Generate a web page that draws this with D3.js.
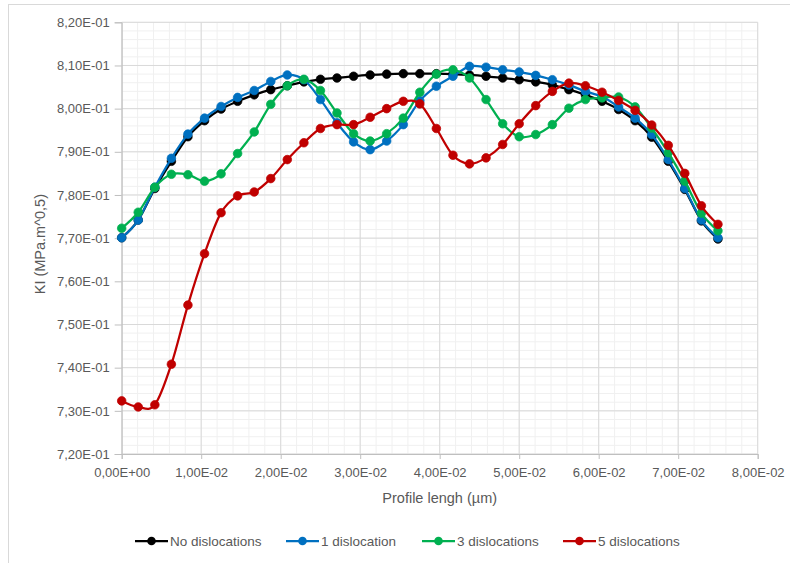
<!DOCTYPE html>
<html>
<head>
<meta charset="utf-8">
<script src="https://cdn.jsdelivr.net/npm/d3@7"></script>
<style>
  body { margin: 0; background: #fff; }
  #chart { width: 790px; height: 563px; }
  text { font-family: "Liberation Sans", Arial, sans-serif; fill: #595959; }
</style>
</head>
<body>
<div id="chart"></div>
<script>
// profile positions (µm)
const profileX = [0, 0.00208, 0.00417, 0.00625, 0.00833, 0.01042, 0.0125, 0.01458, 0.01667, 0.01875,
    0.02083, 0.02292, 0.025, 0.02708, 0.02917, 0.03125, 0.03333, 0.03542, 0.0375, 0.03958,
    0.04167, 0.04375, 0.04583, 0.04792, 0.05, 0.05208, 0.05417, 0.05625, 0.05833, 0.06042,
    0.0625, 0.06458, 0.06667, 0.06875, 0.07083, 0.07292, 0.075];

const noDisloc = [0.7701, 0.7742, 0.7815, 0.7878, 0.7935, 0.7972, 0.7999, 0.8017, 0.8032, 0.8044,
    0.8053, 0.8062, 0.8068, 0.8071, 0.8075, 0.8078, 0.8080, 0.8081, 0.8081, 0.8081,
    0.8080, 0.8078, 0.8075, 0.8071, 0.8067, 0.8062, 0.8055, 0.8044, 0.8032, 0.8017,
    0.7998, 0.7972, 0.7934, 0.7878, 0.7813, 0.7740, 0.7698];

const oneDisloc = [0.7701, 0.7742, 0.7818, 0.7885, 0.7941, 0.7978, 0.8005, 0.8026, 0.8042, 0.8063,
    0.8078, 0.8067, 0.8021, 0.7967, 0.7923, 0.7905, 0.7925, 0.7963, 0.8018, 0.8052,
    0.8075, 0.8098, 0.8096, 0.8090, 0.8085, 0.8077, 0.8067, 0.8055, 0.8040, 0.8028,
    0.8004, 0.7978, 0.7940, 0.7882, 0.7815, 0.7742, 0.7701];

const threeDisloc = [0.7723, 0.7760, 0.7818, 0.7848, 0.7847, 0.7832, 0.7849, 0.7896, 0.7946, 0.8010,
    0.8053, 0.8068, 0.8042, 0.7990, 0.7942, 0.7925, 0.7942, 0.7978, 0.8038, 0.8080,
    0.8090, 0.8071, 0.8021, 0.7965, 0.7935, 0.7940, 0.7963, 0.8001, 0.8021, 0.8025,
    0.8027, 0.8004, 0.7955, 0.7898, 0.7832, 0.7758, 0.7717];

const fiveDisloc = [0.7323, 0.7309, 0.7314, 0.7408, 0.7545, 0.7664, 0.7759, 0.7798, 0.7807, 0.7838,
    0.7882, 0.7921, 0.7954, 0.7963, 0.7963, 0.7980, 0.8000, 0.8017, 0.8011, 0.7954,
    0.7892, 0.7872, 0.7886, 0.7917, 0.7965, 0.8007, 0.8040, 0.8059, 0.8053, 0.8038,
    0.8019, 0.7996, 0.7962, 0.7915, 0.7850, 0.7775, 0.7732];

const seriesNames = ["No dislocations", "1 dislocation", "3 dislocations", "5 dislocations"];
const seriesColors = ["#000000", "#0070C0", "#00B050", "#C00000"];
const xTicks = [0, 0.01, 0.02, 0.03, 0.04, 0.05, 0.06, 0.07, 0.08];
const yTicks = [0.72, 0.73, 0.74, 0.75, 0.76, 0.77, 0.78, 0.79, 0.80, 0.81, 0.82];

const width = 790, height = 563;
const plot = {left: 121.7, right: 757.7, top: 22.3, bottom: 454};

const svg = d3.select("#chart").append("svg")
    .attr("width", width)
    .attr("height", height);

// chart area border
svg.append("rect")
    .attr("x", 8.5).attr("y", 4.5)
    .attr("width", 800).attr("height", 600)
    .attr("fill", "none")
    .attr("stroke", "#d9d9d9");

const x = d3.scaleLinear().domain([0, 0.08]).range([plot.left, plot.right]);
const y = d3.scaleLinear().domain([0.72, 0.82]).range([plot.bottom, plot.top]);

// Excel style scientific format: 8,20E-01
function sci(v) {
    if (v === 0) return "0,00E+00";
    const [m, e] = v.toExponential(2).split("e");
    const ev = +e;
    const es = (ev < 0 ? "-" : "+") + String(Math.abs(ev)).padStart(2, "0");
    return m.replace(".", ",") + "E" + es;
}

// minor grid
const minorX = d3.range(0, 0.0801, 0.002);
const minorY = d3.range(0.72, 0.8201, 0.002);
svg.append("g").selectAll("line").data(minorX).join("line")
    .attr("x1", d => x(d)).attr("x2", d => x(d))
    .attr("y1", plot.top).attr("y2", plot.bottom)
    .attr("stroke", "#f0f0f0").attr("stroke-width", 1);
svg.append("g").selectAll("line").data(minorY).join("line")
    .attr("x1", plot.left).attr("x2", plot.right)
    .attr("y1", d => y(d)).attr("y2", d => y(d))
    .attr("stroke", "#f0f0f0").attr("stroke-width", 1);

// major grid
svg.append("g").selectAll("line").data(xTicks).join("line")
    .attr("x1", d => x(d)).attr("x2", d => x(d))
    .attr("y1", plot.top).attr("y2", plot.bottom)
    .attr("stroke", "#d9d9d9").attr("stroke-width", 1);
svg.append("g").selectAll("line").data(yTicks).join("line")
    .attr("x1", plot.left).attr("x2", plot.right)
    .attr("y1", d => y(d)).attr("y2", d => y(d))
    .attr("stroke", "#d9d9d9").attr("stroke-width", 1);

// axes
const xAxis = svg.append("g")
    .attr("transform", `translate(0,${plot.bottom})`)
    .call(d3.axisBottom(x).tickValues(xTicks).tickFormat(sci).tickSize(5).tickPadding(9));
const yAxis = svg.append("g")
    .attr("transform", `translate(${plot.left},0)`)
    .call(d3.axisLeft(y).tickValues(yTicks).tickFormat(sci).tickSize(7).tickPadding(5));

[xAxis, yAxis].forEach(a => {
    a.select(".domain").attr("stroke", "#bfbfbf");
    a.selectAll(".tick line").attr("stroke", "#bfbfbf");
    a.selectAll(".tick text")
        .style("font-family", '"Liberation Sans", Arial, sans-serif')
        .style("font-size", "13px")
        .attr("fill", "#595959");
});

// axis titles
svg.append("text")
    .attr("x", (plot.left + plot.right) / 2)
    .attr("y", 503)
    .attr("text-anchor", "middle")
    .style("font-size", "14.5px")
    .text("Profile lengh (µm)");

svg.append("text")
    .attr("transform", `translate(45,${(plot.top + plot.bottom) / 2 + 6}) rotate(-90)`)
    .attr("text-anchor", "middle")
    .style("font-size", "14.5px")
    .text("KI (MPa.m^0,5)");

// series
const allSeries = [noDisloc, oneDisloc, threeDisloc, fiveDisloc];
const line = d3.line()
    .x((d, i) => x(profileX[i]))
    .y(d => y(d))
    .curve(d3.curveCardinal.tension(0));

allSeries.forEach((vals, k) => {
    const g = svg.append("g");
    g.append("path")
        .datum(vals)
        .attr("d", line)
        .attr("fill", "none")
        .attr("stroke", seriesColors[k])
        .attr("stroke-width", 2.25);
    g.selectAll("circle").data(vals).join("circle")
        .attr("cx", (d, i) => x(profileX[i]))
        .attr("cy", d => y(d))
        .attr("r", 4.3)
        .attr("fill", seriesColors[k])
        .attr("stroke", seriesColors[k])
        .attr("stroke-width", 0.75);
});

// legend
const legendX = [135, 286, 422, 563];
const legend = svg.append("g").attr("transform", "translate(0,541)");
seriesNames.forEach((name, k) => {
    const item = legend.append("g").attr("transform", `translate(${legendX[k]},0)`);
    item.append("line")
        .attr("x1", 0).attr("x2", 33)
        .attr("stroke", seriesColors[k]).attr("stroke-width", 2.25);
    item.append("circle")
        .attr("cx", 16.5).attr("r", 4.3)
        .attr("fill", seriesColors[k]);
    item.append("text")
        .attr("x", 35).attr("y", 5)
        .style("font-size", "13.5px")
        .text(name);
});
</script>
</body>
</html>
